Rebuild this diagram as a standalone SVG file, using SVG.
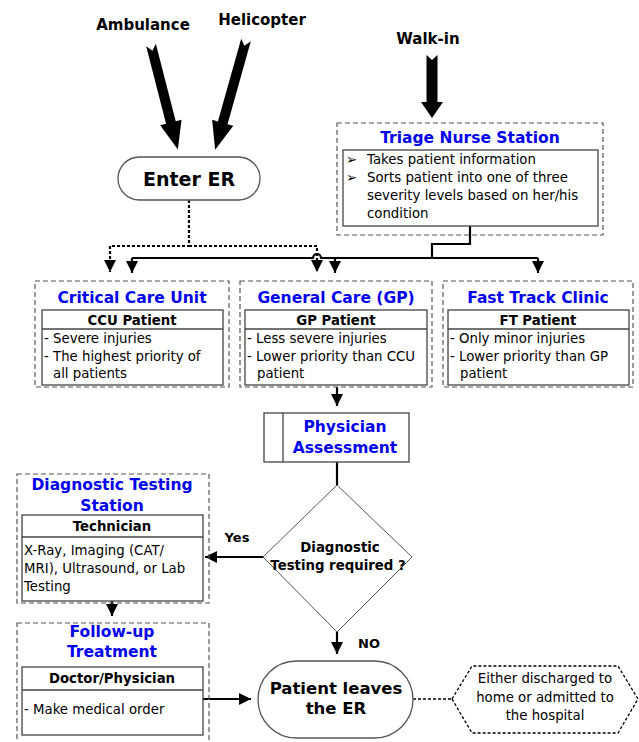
<svg xmlns="http://www.w3.org/2000/svg" width="639" height="742" viewBox="0 0 639 742">
<style>
text{font-family:"DejaVu Sans","Verdana",sans-serif;fill:#000}
.lbl{font-weight:bold;font-size:15px}
.title{font-weight:bold;font-size:15.5px;fill:#0000ee;text-anchor:middle}
.hdr{font-weight:bold;font-size:13.3px;text-anchor:middle}
.body{font-size:13.3px}
.dash{fill:none;stroke:#555;stroke-width:1.2;stroke-dasharray:5,3}
.box{fill:#fff;stroke:#444;stroke-width:1.3}
.conn{fill:none;stroke:#000;stroke-width:2.2}
.dot{fill:none;stroke:#000;stroke-width:2.2;stroke-dasharray:3,2}
.blk{fill:#000}
</style>
<defs>
<marker id="ah" viewBox="0 0 10 10" refX="10" refY="5" markerWidth="5.5" markerHeight="5.5" orient="auto" markerUnits="strokeWidth">
<path d="M0,0 L10,5 L0,10 z" fill="#000"/>
</marker>
</defs>
<rect width="639" height="742" fill="#fff"/>

<g id="sources">
<text class="lbl" x="143" y="30" text-anchor="middle">Ambulance</text>
<text class="lbl" x="262" y="25" text-anchor="middle">Helicopter</text>
<text class="lbl" x="428" y="44" text-anchor="middle">Walk-in</text>
<polygon class="blk" transform="translate(151,45) rotate(75.6)" points="0,-5 80,-5 80,-11 108,0 80,11 80,5 0,5 6,0"/>
<polygon class="blk" transform="translate(246,40) rotate(105.7)" points="0,-5 86,-5 86,-11 114,0 86,11 86,5 0,5 6,0"/>
<polygon class="blk" transform="translate(432,55) rotate(90)" points="0,-5.5 47,-5.5 47,-11 63,0 47,11 47,5.5 0,5.5 5,0"/>
</g>

<g id="connectors">
<path class="dot" d="M189,200 V246 H110 V272" marker-end="url(#ah)"/>
<path class="dot" d="M189,246 H317 V272" marker-end="url(#ah)"/>
<path class="conn" d="M470,226 V244 H432 V258"/>
<path class="conn" d="M132,258 H313 A4,4 0 0 1 321,258 H538"/>
<path class="conn" d="M132,258 V273" marker-end="url(#ah)"/>
<path class="conn" d="M335,258 V273" marker-end="url(#ah)"/>
<path class="conn" d="M538,258 V273" marker-end="url(#ah)"/>
<path class="conn" d="M337,387 V406" marker-end="url(#ah)"/>
<path class="conn" d="M337,462 V485"/>
<path class="conn" d="M263,557 H205" marker-end="url(#ah)"/>
<path class="conn" d="M112,601 V616" marker-end="url(#ah)"/>
<path class="conn" d="M337,632 V654" marker-end="url(#ah)"/>
<path class="conn" d="M203,699 H251" marker-end="url(#ah)"/>
<path d="M413,699 H452" fill="none" stroke="#000" stroke-width="1.5" stroke-dasharray="3,2"/>
<text class="lbl" x="237" y="542" text-anchor="middle" style="font-size:13px">Yes</text>
<text class="lbl" x="369" y="648" text-anchor="middle" style="font-size:13px">NO</text>
</g>

<g id="enter-er">
<rect x="118" y="157" width="142" height="43" rx="21.5" fill="#fff" stroke="#555" stroke-width="1.3"/>
<text x="189" y="186" text-anchor="middle" style="font-weight:bold;font-size:19px">Enter ER</text>
</g>

<g id="triage">
<rect class="dash" x="337" y="123" width="266" height="112"/>
<text class="title" x="470" y="143">Triage Nurse Station</text>
<rect class="box" x="343" y="150" width="255" height="76"/>
<text class="body" x="346" y="164">➢</text>
<text class="body" x="367" y="164">Takes patient information</text>
<text class="body" x="346" y="182">➢</text>
<text class="body" x="367" y="182">Sorts patient into one of three</text>
<text class="body" x="367" y="200">severity levels based on her/his</text>
<text class="body" x="367" y="218">condition</text>
</g>

<g id="ccu">
<rect class="dash" x="35" y="281" width="194" height="106"/>
<text class="title" x="132" y="303">Critical Care Unit</text>
<rect class="box" x="42" y="310" width="181" height="75"/>
<line x1="42" y1="329" x2="223" y2="329" stroke="#444" stroke-width="1.3"/>
<text class="hdr" x="132" y="325">CCU Patient</text>
<text class="body" x="44" y="343">- Severe injuries</text>
<text class="body" x="44" y="361">- The highest priority of</text>
<text class="body" x="53" y="378">all patients</text>
</g>

<g id="gp">
<rect class="dash" x="240" y="281" width="192" height="106"/>
<text class="title" x="336" y="303">General Care (GP)</text>
<rect class="box" x="245" y="310" width="182" height="75"/>
<line x1="245" y1="329" x2="427" y2="329" stroke="#444" stroke-width="1.3"/>
<text class="hdr" x="336" y="325">GP Patient</text>
<text class="body" x="247" y="343">- Less severe injuries</text>
<text class="body" x="247" y="361">- Lower priority than CCU</text>
<text class="body" x="257" y="378">patient</text>
</g>

<g id="ft">
<rect class="dash" x="443" y="281" width="190" height="106"/>
<text class="title" x="538" y="303">Fast Track Clinic</text>
<rect class="box" x="448" y="310" width="181" height="75"/>
<line x1="448" y1="329" x2="629" y2="329" stroke="#444" stroke-width="1.3"/>
<text class="hdr" x="538" y="325">FT Patient</text>
<text class="body" x="450" y="343">- Only minor injuries</text>
<text class="body" x="450" y="361">- Lower priority than GP</text>
<text class="body" x="460" y="378">patient</text>
</g>

<g id="physician">
<rect class="box" x="264" y="413" width="145" height="49"/>
<line x1="283" y1="413" x2="283" y2="462" stroke="#444" stroke-width="1.3"/>
<text class="title" x="345" y="432">Physician</text>
<text class="title" x="345" y="453">Assessment</text>
</g>

<g id="decision">
<polygon points="337,485 412,557 337,632 263,557" fill="#fff" stroke="#555" stroke-width="1"/>
<text class="hdr" x="340" y="552">Diagnostic</text>
<text class="hdr" x="338" y="570">Testing required ?</text>
</g>

<g id="diagnostic">
<rect class="dash" x="17" y="474" width="192" height="129"/>
<text class="title" x="112" y="490">Diagnostic Testing</text>
<text class="title" x="112" y="511">Station</text>
<rect class="box" x="22" y="515" width="181" height="86"/>
<line x1="22" y1="537" x2="203" y2="537" stroke="#444" stroke-width="1.3"/>
<text class="hdr" x="112" y="531">Technician</text>
<text class="body" x="24" y="555">X-Ray, Imaging (CAT/</text>
<text class="body" x="24" y="573">MRI), Ultrasound, or Lab</text>
<text class="body" x="24" y="591">Testing</text>
</g>

<g id="followup">
<rect class="dash" x="17" y="623" width="192" height="122"/>
<text class="title" x="112" y="637">Follow-up</text>
<text class="title" x="112" y="657">Treatment</text>
<rect class="box" x="22" y="667" width="181" height="68"/>
<line x1="22" y1="690" x2="203" y2="690" stroke="#444" stroke-width="1.3"/>
<text class="hdr" x="112" y="683">Doctor/Physician</text>
<text class="body" x="24" y="714">-  Make medical order</text>
</g>

<g id="leaves">
<rect x="258" y="661" width="155" height="77" rx="38.5" fill="#fff" stroke="#555" stroke-width="1.3"/>
<text x="336" y="694" text-anchor="middle" style="font-weight:bold;font-size:16.5px">Patient leaves</text>
<text x="336" y="714" text-anchor="middle" style="font-weight:bold;font-size:16.5px">the ER</text>
</g>

<g id="outcome">
<polygon points="452,699 472,666 618,666 638,699 618,733 472,733" fill="#fff" stroke="#000" stroke-width="1.3" stroke-dasharray="3,2"/>
<text class="body" x="545" y="683" text-anchor="middle">Either discharged to</text>
<text class="body" x="545" y="702" text-anchor="middle">home or admitted to</text>
<text class="body" x="545" y="720" text-anchor="middle">the hospital</text>
</g>
</svg>
